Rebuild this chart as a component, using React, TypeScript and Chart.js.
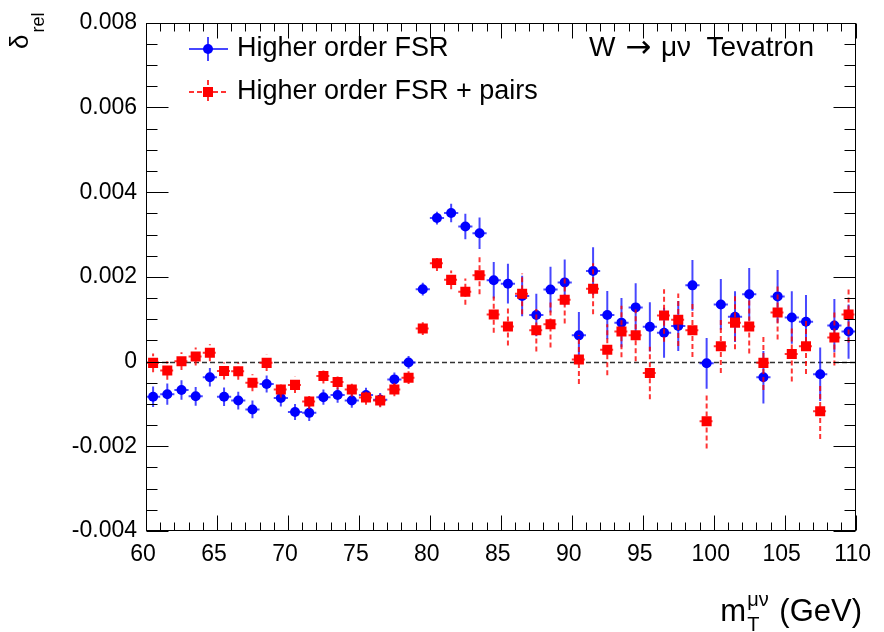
import React, { useEffect, useRef } from 'react';
import { Chart, registerables } from 'chart.js';

Chart.register(...registerables);

const binCenters = [
  60.5, 61.5, 62.5, 63.5, 64.5, 65.5, 66.5, 67.5, 68.5, 69.5,
  70.5, 71.5, 72.5, 73.5, 74.5, 75.5, 76.5, 77.5, 78.5, 79.5,
  80.5, 81.5, 82.5, 83.5, 84.5, 85.5, 86.5, 87.5, 88.5, 89.5,
  90.5, 91.5, 92.5, 93.5, 94.5, 95.5, 96.5, 97.5, 98.5, 99.5,
  100.5, 101.5, 102.5, 103.5, 104.5, 105.5, 106.5, 107.5, 108.5, 109.5,
];
const binHalfWidth = 0.5;

const fsrValues = [
  -0.00083, -0.00077, -0.00067, -0.00082, -0.00037, -0.00083, -0.00092, -0.00113, -0.00053, -0.00086,
  -0.00119, -0.00121, -0.00084, -0.00079, -0.00092, -0.00079, -0.0009, -0.00042, -0.00002, 0.00171,
  0.00339, 0.00351, 0.00319, 0.00303, 0.00192, 0.00184, 0.00155, 0.0011, 0.0017, 0.00187,
  0.00062, 0.00214, 0.0011, 0.00092, 0.00128, 0.00082, 0.00068, 0.00084, 0.0018, -0.00004,
  0.00135, 0.00106, 0.00159, -0.00037, 0.00154, 0.00104, 0.00094, -0.0003, 0.00085, 0.00071,
];
const fsrErrors = [
  0.00024, 0.00025, 0.00023, 0.00022, 0.00022, 0.00022, 0.00021, 0.00021, 0.0002, 0.0002,
  0.00019, 0.00019, 0.00018, 0.00018, 0.00017, 0.00017, 0.00016, 0.00016, 0.00015, 0.00015,
  0.00015, 0.00022, 0.0003, 0.00037, 0.00043, 0.00047, 0.00048, 0.0005, 0.00054, 0.00054,
  0.00055, 0.00056, 0.00057, 0.00058, 0.00057, 0.00058, 0.00059, 0.00059, 0.0006, 0.0006,
  0.0006, 0.0006, 0.00062, 0.00062, 0.00062, 0.00062, 0.00063, 0.00063, 0.00063, 0.00064,
];
const pairsValues = [
  -0.00003, -0.00021, 0.00001, 0.00012, 0.00021, -0.00022, -0.00023, -0.0005, -0.00003, -0.00066,
  -0.00055, -0.00094, -0.00034, -0.00048, -0.00066, -0.00085, -0.00092, -0.00066, -0.00038, 0.00078,
  0.00232, 0.00193, 0.00165, 0.00204, 0.00111, 0.00083, 0.0016, 0.00074, 0.00088, 0.00146,
  0.00005, 0.00172, 0.00028, 0.00071, 0.00062, -0.00027, 0.00109, 0.00099, 0.00074, -0.00141,
  0.00036, 0.00092, 0.00083, -0.00003, 0.00116, 0.00018, 0.00036, -0.00117, 0.00057, 0.00111,
];
const pairsErrors = [
  0.00022, 0.00022, 0.00021, 0.00021, 0.0002, 0.0002, 0.0002, 0.0002, 0.00019, 0.00019,
  0.00019, 0.00018, 0.00018, 0.00018, 0.00017, 0.00017, 0.00016, 0.00016, 0.00015, 0.00015,
  0.00018, 0.00022, 0.00031, 0.00045, 0.00043, 0.00045, 0.00048, 0.0005, 0.00055, 0.00056,
  0.00058, 0.0006, 0.0006, 0.00061, 0.00061, 0.00062, 0.00062, 0.00062, 0.00063, 0.00064,
  0.00063, 0.00063, 0.00064, 0.00064, 0.00064, 0.00065, 0.00065, 0.00066, 0.00066, 0.00066,
];

const xTickLabels = ['60', '65', '70', '75', '80', '85', '90', '95', '100', '105', '110'];
const yTickLabels = ['-0.004', '-0.002', '0', '0.002', '0.004', '0.006', '0.008'];
const seriesLabels = ['Higher order FSR', 'Higher order FSR + pairs'];
const titleParts = ['W', '\u2192', '\u03bc\u03bd  Tevatron'];

const FONT = '"Liberation Sans", Arial, Helvetica, sans-serif';
const ARROW_FONT = '"DejaVu Sans", "Liberation Sans", sans-serif';
const BLUE = '#0000ff';
const RED = '#ff0000';
const BLUE_BAR = 'rgba(0,0,255,0.72)';
const RED_BAR = 'rgba(255,0,0,0.8)';

function line(ctx: CanvasRenderingContext2D, x1: number, y1: number, x2: number, y2: number) {
  ctx.beginPath();
  ctx.moveTo(x1, y1);
  ctx.lineTo(x2, y2);
  ctx.stroke();
}

export default function App() {
  const ref = useRef<HTMLCanvasElement>(null);

  useEffect(() => {
    const canvas = ref.current;
    if (!canvas) return;
    const errorSets = [fsrErrors, pairsErrors];

    const rootStyle = {
      id: 'rootStyle',
      beforeDatasetsDraw(chart: any) {
        const { ctx, chartArea: a, scales } = chart;
        const y0 = Math.round(scales.y.getPixelForValue(0)) + 0.5;
        ctx.save();
        ctx.strokeStyle = '#333';
        ctx.lineWidth = 1.5;
        ctx.setLineDash([5, 3]);
        line(ctx, a.left, y0, a.right, y0);
        ctx.restore();
      },
      beforeDatasetDraw(chart: any, args: any) {
        const { ctx, chartArea: a, scales } = chart;
        const idx = args.index;
        const ds = chart.data.datasets[idx];
        const errs = errorSets[idx];
        ctx.save();
        ctx.beginPath();
        ctx.rect(a.left, a.top, a.right - a.left, a.bottom - a.top);
        ctx.clip();
        ctx.lineWidth = 2;
        ctx.strokeStyle = idx === 0 ? BLUE_BAR : RED_BAR;
        ctx.setLineDash(idx === 0 ? [] : [5, 3]);
        ds.data.forEach((p: any, i: number) => {
          const px = scales.x.getPixelForValue(p.x);
          const pl = scales.x.getPixelForValue(p.x - binHalfWidth);
          const pr = scales.x.getPixelForValue(p.x + binHalfWidth);
          const py = scales.y.getPixelForValue(p.y);
          const pt = scales.y.getPixelForValue(p.y + errs[i]);
          const pb = scales.y.getPixelForValue(p.y - errs[i]);
          line(ctx, px, pb, px, pt);
          line(ctx, pl, py, pr, py);
        });
        ctx.restore();
      },
      afterDraw(chart: any) {
        const { ctx, chartArea: a, scales } = chart;
        ctx.save();
        ctx.strokeStyle = '#000';
        ctx.lineWidth = 1;
        ctx.setLineDash([]);
        // frame
        const L = Math.round(a.left) + 0.5;
        const R = Math.round(a.right) - 0.5;
        const T = Math.round(a.top) + 0.5;
        const B = Math.round(a.bottom) - 0.5;
        ctx.strokeRect(L, T, R - L, B - T);
        // x ticks (major every 5, minor every 1)
        for (let v = 60; v <= 110; v++) {
          const px = Math.round(scales.x.getPixelForValue(v)) + 0.5;
          const len = v % 5 === 0 ? 15 : 8;
          line(ctx, px, B, px, B - len);
          line(ctx, px, T, px, T + len);
        }
        // y ticks (major every 0.002, minor every 0.0005)
        for (let k = 0; k <= 24; k++) {
          const v = -0.004 + k * 0.0005;
          const py = Math.round(scales.y.getPixelForValue(v)) + 0.5;
          const len = k % 4 === 0 ? 22 : 11;
          line(ctx, L, py, L + len, py);
          line(ctx, R, py, R - len, py);
        }

        // title text: W -> mu nu  Tevatron
        ctx.fillStyle = '#000';
        ctx.textBaseline = 'alphabetic';
        ctx.font = `28px ${FONT}`;
        ctx.textAlign = 'left';
        ctx.fillText(titleParts[0], 589, 56);
        const wW = ctx.measureText(titleParts[0]).width;
        ctx.textAlign = 'right';
        ctx.fillText(titleParts[2], 814, 56);
        const wRestT = ctx.measureText(titleParts[2]).width;
        const arrowCenter = (589 + wW + (814 - wRestT)) / 2;
        ctx.font = `31px ${ARROW_FONT}`;
        ctx.textAlign = 'center';
        ctx.fillText(titleParts[1], arrowCenter, 57);
        ctx.textAlign = 'left';

        // legend
        const rows = [49, 92];
        rows.forEach((ry, i) => {
          ctx.save();
          ctx.lineWidth = 2;
          ctx.strokeStyle = i === 0 ? BLUE_BAR : RED_BAR;
          ctx.setLineDash(i === 0 ? [] : [5, 3]);
          line(ctx, 189, ry, 228, ry);
          line(ctx, 208, ry - 12, 208, ry + 12);
          ctx.setLineDash([]);
          ctx.fillStyle = i === 0 ? BLUE : RED;
          ctx.beginPath();
          if (i === 0) ctx.arc(208, ry, 5, 0, Math.PI * 2);
          else ctx.rect(203, ry - 5, 10, 10);
          ctx.fill();
          ctx.restore();
          ctx.fillStyle = '#000';
          ctx.font = `27px ${FONT}`;
          ctx.textBaseline = 'middle';
          ctx.fillText(seriesLabels[i], 237, ry);
        });

        // x-axis title: m_T^{mu nu} (GeV), right aligned
        ctx.textBaseline = 'alphabetic';
        const mainF = `31px ${FONT}`;
        const smallF = `20px ${FONT}`;
        ctx.font = mainF;
        const wM = ctx.measureText('m').width;
        const wRest = ctx.measureText(' (GeV)').width;
        ctx.font = smallF;
        const wSup = ctx.measureText('\u03bc\u03bd').width;
        const wSub = ctx.measureText('T').width;
        const wScript = Math.max(wSup, wSub) + 2;
        const right = 862;
        const baseY = 621;
        const x0 = right - wRest - wScript - wM - 1;
        ctx.font = mainF;
        ctx.fillText('m', x0, baseY);
        ctx.font = smallF;
        ctx.fillText('\u03bc\u03bd', x0 + wM + 1, baseY - 15);
        ctx.fillText('T', x0 + wM + 1, baseY + 10);
        ctx.font = mainF;
        ctx.fillText(' (GeV)', x0 + wM + 1 + wScript, baseY);

        // y-axis title: delta_rel rotated
        ctx.save();
        ctx.translate(28, 49);
        ctx.rotate(-Math.PI / 2);
        ctx.font = `26px ${FONT}`;
        ctx.fillText('\u03b4', 0, 0);
        const wD = ctx.measureText('\u03b4').width;
        ctx.font = `18px ${FONT}`;
        ctx.fillText('rel', wD + 2, 16);
        ctx.restore();

        ctx.restore();
      },
    };

    const chart = new Chart(canvas, {
      type: 'scatter',
      data: {
        datasets: [
          {
            label: seriesLabels[0],
            data: binCenters.map((x, i) => ({ x, y: fsrValues[i] })),
            backgroundColor: BLUE,
            borderColor: BLUE,
            borderWidth: 0,
            pointStyle: 'circle',
            pointRadius: 5,
            pointHoverRadius: 5,
            order: 2,
          },
          {
            label: seriesLabels[1],
            data: binCenters.map((x, i) => ({ x, y: pairsValues[i] })),
            backgroundColor: RED,
            borderColor: RED,
            borderWidth: 0,
            pointStyle: 'rect',
            pointRadius: 7.1,
            pointHoverRadius: 7.1,
            order: 1,
          },
        ],
      },
      options: {
        responsive: false,
        animation: false,
        events: [],
        layout: { padding: { left: 0, top: 16, right: 22, bottom: 0 } },
        plugins: {
          legend: { display: false },
          tooltip: { enabled: false },
          title: { display: false },
        },
        scales: {
          x: {
            type: 'linear',
            min: 60,
            max: 110,
            grid: { display: false, drawTicks: false },
            border: { display: false },
            ticks: {
              stepSize: 5,
              color: '#000',
              font: { family: FONT, size: 23 },
              padding: 10,
              labelOffset: -3,
              maxRotation: 0,
              autoSkip: false,
              callback: (v: any) => {
                const i = Math.round((Number(v) - 60) / 5);
                return xTickLabels[i] ?? '';
              },
            },
            afterFit: (scale: any) => {
              scale.height = 101;
            },
          },
          y: {
            type: 'linear',
            min: -0.004,
            max: 0.008,
            grid: { display: false, drawTicks: false },
            border: { display: false },
            ticks: {
              stepSize: 0.002,
              color: '#000',
              font: { family: FONT, size: 23 },
              padding: 9,
              autoSkip: false,
              callback: (v: any) => {
                const i = Math.round((Number(v) + 0.004) / 0.002);
                return yTickLabels[i] ?? '';
              },
            },
            afterFit: (scale: any) => {
              scale.width = 146;
            },
          },
        },
      },
      plugins: [rootStyle],
    });

    return () => chart.destroy();
  }, []);

  return (
    <div style={{ position: 'fixed', left: 0, top: 0, width: 884, height: 632, background: '#fff' }}>
      <canvas ref={ref} width={884} height={632} style={{ display: 'block' }} />
    </div>
  );
}
